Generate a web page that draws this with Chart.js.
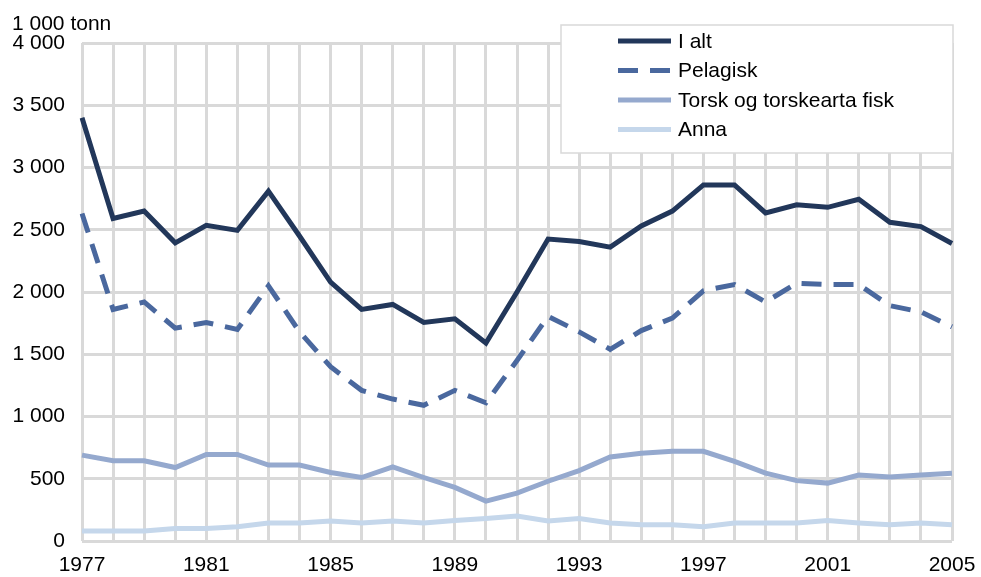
<!DOCTYPE html>
<html>
<head>
<meta charset="utf-8">
<script src="https://cdn.jsdelivr.net/npm/chart.js@4"></script>
<style>
  html, body { margin: 0; padding: 0; background: #fff; }
  #wrap { width: 981px; height: 577px; position: relative; }
</style>
</head>
<body>
<div id="wrap"><canvas id="fishChart" width="981" height="577"></canvas></div>
<script>
// --- Data ---
const years = [1977, 1978, 1979, 1980, 1981, 1982, 1983, 1984, 1985, 1986,
    1987, 1988, 1989, 1990, 1991, 1992, 1993, 1994, 1995, 1996,
    1997, 1998, 1999, 2000, 2001, 2002, 2003, 2004, 2005];

const iAlt = [3400, 2590, 2650, 2395, 2535, 2495, 2810, 2450, 2080, 1860,
    1900, 1755, 1785, 1590, 2000, 2425, 2405, 2360, 2530, 2650,
    2860, 2860, 2635, 2700, 2680, 2745, 2560, 2525, 2390];

const pelagisk = [2630, 1860, 1920, 1710, 1755, 1700, 2050, 1680, 1400, 1210,
    1140, 1090, 1210, 1110, 1450, 1805, 1680, 1540, 1690, 1790,
    2010, 2060, 1920, 2070, 2060, 2060, 1890, 1840, 1720];

const torsk = [690, 645, 645, 590, 695, 695, 610, 610, 550, 510,
    595, 510, 430, 320, 385, 480, 565, 675, 705, 720,
    720, 640, 545, 485, 465, 530, 515, 530, 545];

const anna = [80, 80, 80, 100, 100, 115, 145, 145, 160, 145,
    160, 145, 165, 180, 200, 160, 180, 145, 130, 130,
    115, 145, 145, 145, 165, 145, 130, 145, 130];

const seriesNames = ['I alt', 'Pelagisk', 'Torsk og torskearta fisk', 'Anna'];
const seriesColors = ['#22375a', '#4a689e', '#95a9ce', '#c5d7eb'];
const yTicks = [0, 500, 1000, 1500, 2000, 2500, 3000, 3500, 4000];
const unitLabel = '1 000 tonn';

const FONT = "'Liberation Sans', Arial, sans-serif";
const GRID = '#d9d9d9';

// --- Helpers ---
function fmt(n) {
    return String(n).replace(/\B(?=(\d{3})+(?!\d))/g, ' ');
}

// legend box + unit label, drawn over the grid
const overlayPlugin = {
    id: 'overlay',
    afterDraw(chart) {
        const ctx = chart.ctx;
        ctx.save();
        ctx.font = '21px ' + FONT;
        ctx.fillStyle = '#000';
        ctx.textBaseline = 'alphabetic';
        ctx.textAlign = 'left';
        ctx.fillText(unitLabel, 12, 30);

        // legend
        const bx = 561, by = 25, bw = 392, bh = 128;
        ctx.fillStyle = '#fff';
        ctx.fillRect(bx, by, bw, bh);
        ctx.strokeStyle = GRID;
        ctx.lineWidth = 1.5;
        ctx.strokeRect(bx, by, bw, bh);

        chart.data.datasets.forEach((ds, i) => {
            const y = 41 + i * 29.5;
            ctx.beginPath();
            ctx.strokeStyle = ds.borderColor;
            ctx.lineWidth = 5;
            ctx.setLineDash(ds.borderDash || []);
            ctx.moveTo(618, y);
            ctx.lineTo(671, y);
            ctx.stroke();
            ctx.setLineDash([]);
            ctx.fillStyle = '#000';
            ctx.textBaseline = 'middle';
            ctx.fillText(ds.label, 678, y + 1);
        });
        ctx.restore();
    }
};

// --- Chart ---
const seriesData = [iAlt, pelagisk, torsk, anna];
const datasets = seriesData.map((d, i) => ({
    label: seriesNames[i],
    data: d,
    borderColor: seriesColors[i],
    backgroundColor: seriesColors[i],
    borderWidth: 5,
    borderDash: i === 1 ? [20, 12] : undefined,
    pointRadius: 0,
    tension: 0,
    fill: false
}));

new Chart(document.getElementById('fishChart').getContext('2d'), {
    type: 'line',
    data: { labels: years.map(String), datasets },
    options: {
        responsive: false,
        animation: false,
        devicePixelRatio: 1,
        layout: { padding: { top: 43, right: 29, left: 0, bottom: 0 } },
        plugins: { legend: { display: false }, tooltip: { enabled: false } },
        scales: {
            x: {
                offset: false,
                grid: { color: GRID, lineWidth: 3, drawTicks: false },
                border: { display: false },
                ticks: {
                    autoSkip: false,
                    maxRotation: 0,
                    padding: 12,
                    color: '#000',
                    font: { family: FONT, size: 21 },
                    callback: (v, i) => (i % 4 === 0 ? years[i] : '')
                },
                afterFit: s => {
                    s.height = 36;
                    s.paddingLeft = 0;
                    s.paddingRight = 0;
                }
            },
            y: {
                min: 0,
                max: 4000,
                afterBuildTicks: s => { s.ticks = yTicks.map(v => ({ value: v })); },
                grid: { color: GRID, lineWidth: 3, drawTicks: false },
                border: { display: false },
                ticks: {
                    padding: 17,
                    color: '#000',
                    font: { family: FONT, size: 21 },
                    callback: v => fmt(v)
                },
                afterFit: s => {
                    s.width = 82;
                    s.paddingTop = 0;
                    s.paddingBottom = 0;
                }
            }
        }
    },
    plugins: [overlayPlugin]
});
</script>
</body>
</html>
